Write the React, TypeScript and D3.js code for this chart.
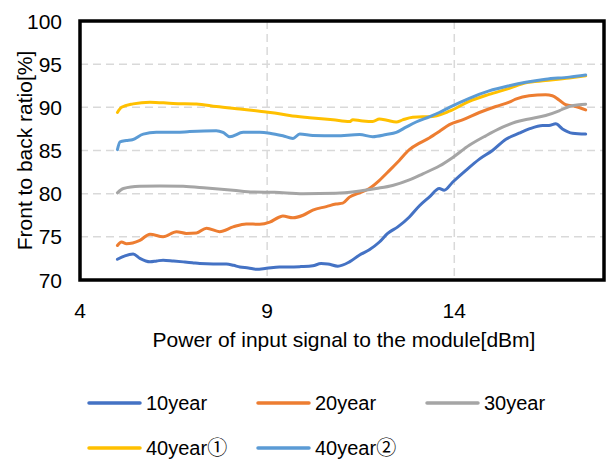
import React from "react";
import * as d3 from "d3";

const xTicks = [4, 9, 14];
const yTicks = [70, 75, 80, 85, 90, 95, 100];

const seriesNames = ["10year", "20year", "30year", "40year①", "40year②"];
const seriesColors = ["#4472C4", "#ED7D31", "#A5A5A5", "#FFC000", "#5B9BD5"];

const x10 = [5.0, 5.2, 5.42, 5.6, 5.87, 6.05, 6.22, 6.5, 6.76, 7.0, 7.2, 7.56, 7.91, 8.1, 8.27, 8.5, 8.71, 8.98, 9.33, 9.6, 9.9, 10.22, 10.44, 10.62, 10.89, 11.2, 11.47, 11.73, 12.0, 12.22, 12.49, 12.8, 13.07, 13.33, 13.6, 13.73, 13.96, 14.31, 14.67, 15.02, 15.38, 15.73, 16.0, 16.36, 16.53, 16.71, 16.89, 17.16, 17.51];
const y10 = [72.4, 72.8, 73.0, 72.5, 72.1, 72.2, 72.3, 72.2, 72.1, 72.0, 71.9, 71.85, 71.85, 71.7, 71.5, 71.4, 71.25, 71.35, 71.5, 71.5, 71.55, 71.65, 71.9, 71.85, 71.6, 72.1, 72.9, 73.5, 74.4, 75.4, 76.15, 77.3, 78.6, 79.6, 80.6, 80.4, 81.35, 82.7, 84.0, 85.0, 86.3, 87.0, 87.5, 87.9, 87.9, 88.1, 87.5, 87.0, 86.9];

const x20 = [5.0, 5.11, 5.24, 5.6, 5.87, 6.22, 6.58, 6.84, 7.11, 7.38, 7.73, 8.09, 8.44, 8.8, 9.07, 9.33, 9.42, 9.69, 9.96, 10.22, 10.58, 10.84, 11.02, 11.2, 11.47, 11.73, 12.0, 12.27, 12.53, 12.8, 13.07, 13.33, 13.6, 13.87, 14.22, 14.67, 15.11, 15.47, 15.64, 16.0, 16.44, 16.62, 16.8, 16.98, 17.24, 17.51];
const y20 = [74.0, 74.4, 74.2, 74.6, 75.3, 75.0, 75.6, 75.4, 75.45, 76.0, 75.6, 76.15, 76.5, 76.45, 76.7, 77.3, 77.4, 77.2, 77.5, 78.1, 78.5, 78.8, 78.9, 79.6, 80.1, 80.6, 81.55, 82.7, 83.85, 85.1, 85.85, 86.45, 87.2, 88.0, 88.55, 89.4, 90.1, 90.6, 90.95, 91.35, 91.45, 91.35, 90.85, 90.3, 90.1, 89.7];

const x30 = [5.0, 5.16, 5.6, 6.13, 6.76, 7.38, 8.09, 8.62, 9.2, 9.96, 10.84, 11.38, 11.91, 12.35, 12.8, 13.16, 13.6, 13.96, 14.4, 14.84, 15.29, 15.64, 16.0, 16.44, 16.8, 17.07, 17.33, 17.51];
const y30 = [80.1, 80.6, 80.85, 80.9, 80.85, 80.65, 80.4, 80.2, 80.15, 80.0, 80.05, 80.25, 80.6, 80.95, 81.6, 82.3, 83.2, 84.2, 85.6, 86.7, 87.7, 88.3, 88.65, 89.05, 89.6, 90.1, 90.3, 90.35];

const x40a = [5.0, 5.11, 5.42, 5.87, 6.49, 7.11, 7.64, 8.27, 8.8, 9.2, 9.6, 10.13, 10.76, 11.2, 11.29, 11.5, 11.82, 12.0, 12.2, 12.45, 12.62, 12.89, 13.16, 13.33, 13.87, 14.4, 14.93, 15.47, 15.91, 16.44, 17.07, 17.51];
const y40a = [89.4, 90.0, 90.4, 90.6, 90.45, 90.4, 90.1, 89.8, 89.55, 89.35, 89.05, 88.8, 88.55, 88.35, 88.55, 88.45, 88.35, 88.65, 88.5, 88.3, 88.55, 88.85, 88.9, 88.9, 89.55, 90.7, 91.5, 92.2, 92.85, 93.1, 93.4, 93.65];

const x40b = [5.0, 5.07, 5.24, 5.4, 5.69, 6.04, 6.58, 6.93, 7.64, 7.82, 8.0, 8.36, 8.8, 9.07, 9.42, 9.69, 9.87, 10.22, 10.84, 11.47, 11.82, 12.18, 12.45, 12.71, 12.98, 13.33, 13.6, 13.87, 14.4, 14.93, 15.47, 15.91, 16.44, 17.07, 17.51];
const y40b = [85.1, 86.0, 86.15, 86.25, 86.9, 87.1, 87.1, 87.2, 87.3, 87.1, 86.6, 87.1, 87.1, 87.0, 86.7, 86.4, 86.9, 86.75, 86.7, 86.85, 86.6, 86.85, 87.1, 87.7, 88.3, 88.9, 89.4, 90.0, 91.05, 91.9, 92.5, 92.9, 93.25, 93.5, 93.75];

const seriesX = [x10, x20, x30, x40a, x40b];
const seriesY = [y10, y20, y30, y40a, y40b];

const FONT = "Arial, 'Liberation Sans', 'Noto Sans CJK JP', sans-serif";

export default function App() {
  const width = 606;
  const height = 464;
  const left = 80, right = 604, top = 21, bottom = 280;

  const x = d3.scaleLinear().domain([4, 18]).range([left, right]);
  const y = d3.scaleLinear().domain([70, 100]).range([bottom, top]);

  const line = d3
    .line<[number, number]>()
    .x((d) => x(d[0]))
    .y((d) => y(d[1]))
    .curve(d3.curveMonotoneX);

  const legendRows = [
    { y: 403, items: [0, 1, 2] },
    { y: 448, items: [3, 4] },
  ];
  const legendX = [89, 258, 427];

  return (
    <svg
      width={width}
      height={height}
      style={{ position: "absolute", left: 0, top: 0, background: "#fff" }}
      fontFamily={FONT}
    >
      <rect x={0} y={0} width={width} height={height} fill="#fff" />
      {/* grid */}
      {yTicks
        .filter((t) => t > 70 && t < 100)
        .map((t) => (
          <line
            key={"gy" + t}
            x1={left}
            x2={right}
            y1={y(t)}
            y2={y(t)}
            stroke="#D9D9D9"
            strokeWidth={1.5}
            strokeDasharray="8,5"
          />
        ))}
      {xTicks
        .filter((t) => t > 4)
        .map((t) => (
          <line
            key={"gx" + t}
            x1={x(t)}
            x2={x(t)}
            y1={top}
            y2={bottom}
            stroke="#D9D9D9"
            strokeWidth={1.5}
            strokeDasharray="8,5"
          />
        ))}
      {/* series */}
      {seriesNames.map((name, i) => {
        const pts = seriesX[i].map((v, j) => [v, seriesY[i][j]] as [number, number]);
        return (
          <path
            key={name}
            d={line(pts) || ""}
            fill="none"
            stroke={seriesColors[i]}
            strokeWidth={3}
            strokeLinejoin="round"
            strokeLinecap="round"
          />
        );
      })}
      {/* frame */}
      <rect
        x={left}
        y={top}
        width={right - left}
        height={bottom - top}
        fill="none"
        stroke="#000"
        strokeWidth={3.5}
      />
      {/* y ticks */}
      {yTicks.map((t) => (
        <text key={"ty" + t} x={62} y={y(t)} dy="0.36em" textAnchor="end" fontSize={21} fill="#000">
          {t}
        </text>
      ))}
      {/* x ticks */}
      {xTicks.map((t) => (
        <text key={"tx" + t} x={x(t)} y={318} textAnchor="middle" fontSize={21} fill="#000">
          {t}
        </text>
      ))}
      <text x={344} y={347} textAnchor="middle" fontSize={21} fill="#000">
        Power of input signal to the module[dBm]
      </text>
      <text
        transform={`translate(32,150.5) rotate(-90)`}
        textAnchor="middle"
        fontSize={21}
        fill="#000"
      >
        Front to back ratio[%]
      </text>
      {/* legend */}
      {legendRows.map((row) =>
        row.items.map((idx, k) => (
          <g key={"lg" + idx}>
            <line
              x1={legendX[k]}
              x2={legendX[k] + 51}
              y1={row.y}
              y2={row.y}
              stroke={seriesColors[idx]}
              strokeWidth={3.5}
              strokeLinecap="round"
            />
            <text x={legendX[k] + 57} y={row.y} dy="0.36em" fontSize={20} fill="#000">
              {seriesNames[idx]}
            </text>
          </g>
        ))
      )}
    </svg>
  );
}
